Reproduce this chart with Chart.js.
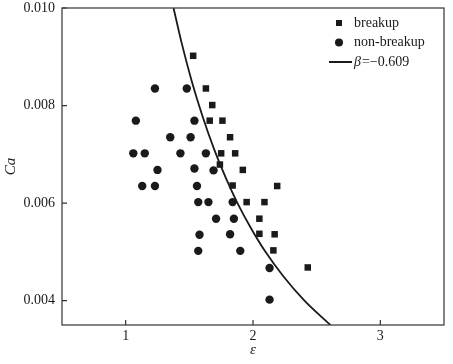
<!DOCTYPE html>
<html>
<head>
<meta charset="utf-8">
<script src="https://cdn.jsdelivr.net/npm/chart.js@4.4.1/dist/chart.umd.min.js"></script>
<style>
html, body { margin: 0; padding: 0; background: #fff; }
#wrap { width: 453px; height: 364px; }
</style>
</head>
<body>
<div id="wrap"><canvas id="chart"></canvas></div>
<script>
// breakup points
const breakupEps = [1.53, 1.63, 1.68, 1.66, 1.76, 1.82, 1.75, 1.86, 1.74, 1.92, 1.84, 2.19, 1.95, 2.09, 2.05, 2.05, 2.17, 2.16, 2.43];
const breakupCa  = [0.00902, 0.00835, 0.00801, 0.00769, 0.00769, 0.00735, 0.00702, 0.00702, 0.00679, 0.00668, 0.00636, 0.00635, 0.00602, 0.00602, 0.00568, 0.00537, 0.00536, 0.00503, 0.00468];

// non-breakup points
const nonBreakupEps = [1.23, 1.48, 1.08, 1.54, 1.35, 1.51, 1.06, 1.15, 1.43, 1.63, 1.25, 1.54, 1.69, 1.13, 1.23, 1.56, 1.57, 1.65, 1.84, 1.71, 1.85, 1.58, 1.82, 1.57, 1.90, 2.13, 2.13];
const nonBreakupCa  = [0.00835, 0.00835, 0.00769, 0.00769, 0.00735, 0.00735, 0.00702, 0.00702, 0.00702, 0.00702, 0.00668, 0.00671, 0.00667, 0.00635, 0.00635, 0.00635, 0.00602, 0.00602, 0.00602, 0.00568, 0.00568, 0.00535, 0.00536, 0.00502, 0.00502, 0.00467, 0.00402];

// fitted curve, beta = -0.609
const curveEps = [1.376, 1.438, 1.519, 1.601, 1.695, 1.789, 1.878, 1.981, 2.098, 2.238, 2.404, 2.608];
const curveCa  = [0.0100, 0.0093, 0.0085, 0.0078, 0.0071, 0.0065, 0.0060, 0.0055, 0.0050, 0.0045, 0.0040, 0.0035];

const xTicks = [1, 2, 3];
const yTicks = [0.004, 0.006, 0.008, 0.010];
const seriesNames = ['breakup', 'non-breakup', 'β=−0.609'];

const toPts = (xs, ys) => xs.map((x, i) => ({ x: x, y: ys[i] }));
const serif = 'Liberation Serif, Times New Roman, serif';
const ink = '#1a1a1a';

// box + inward tick marks
const frame = {
    id: 'frame',
    afterDatasetsDraw(chart) {
        const { ctx, chartArea: a, scales: { x, y } } = chart;
        ctx.save();
        ctx.strokeStyle = '#333';
        ctx.lineWidth = 1.2;
        ctx.strokeRect(a.left, a.top, a.right - a.left, a.bottom - a.top);
        ctx.beginPath();
        x.ticks.forEach(t => {
            const px = x.getPixelForValue(t.value);
            ctx.moveTo(px, a.bottom); ctx.lineTo(px, a.bottom - 5);
        });
        y.ticks.forEach(t => {
            const py = y.getPixelForValue(t.value);
            ctx.moveTo(a.left, py); ctx.lineTo(a.left + 5, py);
        });
        ctx.stroke();
        ctx.restore();
    }
};

// legend in the top right corner
const cornerLegend = {
    id: 'cornerLegend',
    afterDraw(chart) {
        const { ctx, chartArea: a } = chart;
        const mx = a.right - 105, tx = a.right - 90;
        const rows = [a.top + 15, a.top + 34.5, a.top + 54];
        ctx.save();
        ctx.fillStyle = ink;
        ctx.strokeStyle = ink;
        ctx.fillRect(mx - 3, rows[0] - 3, 6, 6);
        ctx.beginPath();
        ctx.arc(mx, rows[1], 4, 0, Math.PI * 2);
        ctx.fill();
        ctx.lineWidth = 2;
        ctx.beginPath();
        ctx.moveTo(a.right - 115, rows[2]); ctx.lineTo(a.right - 92, rows[2]);
        ctx.stroke();
        ctx.font = '14px ' + serif;
        ctx.textBaseline = 'middle';
        ctx.fillText(seriesNames[0], tx, rows[0]);
        ctx.fillText(seriesNames[1], tx, rows[1]);
        ctx.font = 'italic 14px ' + serif;
        ctx.fillText(seriesNames[2].charAt(0), tx, rows[2]);
        const w = ctx.measureText(seriesNames[2].charAt(0)).width;
        ctx.font = '14px ' + serif;
        ctx.fillText(seriesNames[2].slice(1), tx + w + 1, rows[2]);
        ctx.restore();
    }
};

new Chart(document.getElementById('chart'), {
    type: 'scatter',
    data: {
        datasets: [
            {
                label: seriesNames[0],
                data: toPts(breakupEps, breakupCa),
                pointStyle: 'rect',
                pointRadius: 4.6,
                backgroundColor: ink,
                borderWidth: 0
            },
            {
                label: seriesNames[1],
                data: toPts(nonBreakupEps, nonBreakupCa),
                pointStyle: 'circle',
                pointRadius: 4.2,
                backgroundColor: ink,
                borderWidth: 0
            },
            {
                type: 'line',
                label: seriesNames[2],
                data: toPts(curveEps, curveCa),
                showLine: true,
                borderColor: ink,
                borderWidth: 1.8,
                pointRadius: 0,
                cubicInterpolationMode: 'monotone',
                fill: false,
                clip: 0
            }
        ]
    },
    options: {
        responsive: true,
        maintainAspectRatio: false,
        animation: false,
        layout: { padding: { left: 0, top: 0, right: 9, bottom: 0 } },
        plugins: { legend: { display: false }, tooltip: { enabled: false } },
        scales: {
            x: {
                type: 'linear',
                min: 0.5,
                max: 3.5,
                afterBuildTicks: s => { s.ticks = xTicks.map(v => ({ value: v })); },
                afterFit: s => { s.height = 39; s.paddingLeft = 0; s.paddingRight = 0; },
                grid: { display: false, drawTicks: false },
                border: { display: false },
                ticks: { color: ink, padding: 3, font: { family: serif, size: 14 }, callback: v => String(v) },
                title: { display: true, text: 'ε', color: ink, padding: { top: 0, bottom: 5 }, font: { family: serif, size: 15, style: 'italic' } }
            },
            y: {
                type: 'linear',
                min: 0.0035,
                max: 0.010,
                afterBuildTicks: s => { s.ticks = yTicks.map(v => ({ value: v })); },
                afterFit: s => { s.width = 62; s.paddingTop = 8; s.paddingBottom = 0; },
                grid: { display: false, drawTicks: false },
                border: { display: false },
                ticks: { color: ink, padding: 7, font: { family: serif, size: 14 }, callback: v => v.toFixed(3) },
                title: { display: true, text: 'Ca', color: ink, padding: { top: 2, bottom: 0 }, font: { family: serif, size: 15, style: 'italic' } }
            }
        }
    },
    plugins: [frame, cornerLegend]
});
</script>
</body>
</html>
